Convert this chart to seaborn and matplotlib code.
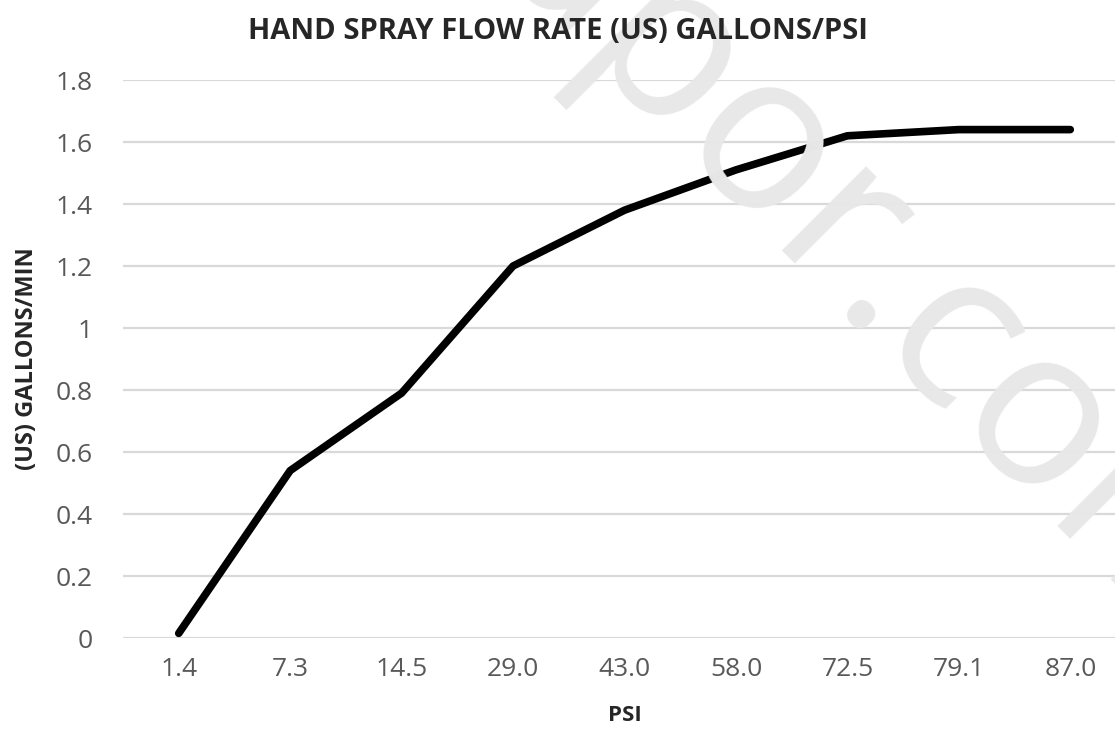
import pandas as pd
import seaborn as sns
import matplotlib.pyplot as plt

psi = ['1.4', '7.3', '14.5', '29.0', '43.0', '58.0', '72.5', '79.1', '87.0']
gallons = [0.015, 0.54, 0.79, 1.2, 1.38, 1.51, 1.62, 1.64, 1.64]
yticks = [0, 0.2, 0.4, 0.6, 0.8, 1, 1.2, 1.4, 1.6, 1.8]
ytick_labels = ['0', '0.2', '0.4', '0.6', '0.8', '1', '1.2', '1.4', '1.6', '1.8']

data = pd.DataFrame({'PSI': psi, 'GPM': gallons})

sns.set_style('white')
plt.rcParams['font.family'] = ['Open Sans', 'DejaVu Sans']

fig = plt.figure(figsize=(11.15, 7.51), dpi=100)
ax = fig.add_axes([123 / 1115, 113 / 751, 1003 / 1115, 558 / 751])

# faint watermark behind the chart
fig.text(0.787, 0.633, 'apor.com', fontsize=160, color='#e8e8e8',
         rotation=-45, rotation_mode='anchor', ha='center', va='center', zorder=0)
ax.set_facecolor('none')

sns.lineplot(x='PSI', y='GPM', data=data, sort=False, color='black',
             linewidth=5.5, solid_capstyle='round', solid_joinstyle='round', ax=ax, zorder=3)

ax.set_xlim(-0.5, 8.5)
ax.set_ylim(0, 1.8)
ax.set_yticks(yticks)
ax.set_yticklabels(ytick_labels)
ax.yaxis.grid(True, color='#d9d9d9', linewidth=1.6)
ax.set_axisbelow(True)
for s in ax.spines.values():
    s.set_visible(False)
ax.tick_params(axis='both', length=0, labelsize=19, labelcolor='#595959')
ax.tick_params(axis='x', pad=14)
ax.tick_params(axis='y', pad=22)

ax.set_xlabel('PSI', fontsize=16, fontweight='bold', labelpad=16)
ax.set_ylabel('(US) GALLONS/MIN', fontsize=17, fontweight='bold', labelpad=12)
fig.text(0.5, 0.958, 'HAND SPRAY FLOW RATE (US) GALLONS/PSI', ha='center', va='center',
         fontsize=21, fontweight='bold')

plt.savefig('out.png', dpi=100)
